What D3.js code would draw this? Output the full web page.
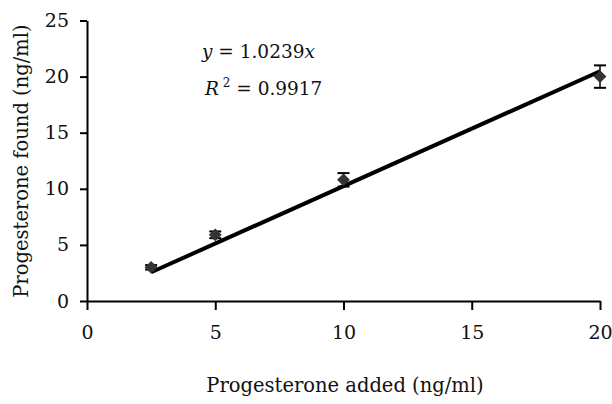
<!DOCTYPE html>
<html>
<head>
<meta charset="utf-8">
<script src="https://cdn.jsdelivr.net/npm/d3@7"></script>
<style>
  body { margin: 0; background: #fff; }
  text { font-family: "DejaVu Serif", serif; fill: #111; }
</style>
</head>
<body>
<div id="chart"></div>
<script>
// data
var added = [2.5, 5, 10, 20];
var found = [3.0, 5.9, 10.8, 20.0];
var errs = [0.2, 0.3, 0.6, 1.0];
var slope = 1.0239;
var xTicks = [0, 5, 10, 15, 20];
var yTicks = [0, 5, 10, 15, 20, 25];

var W = 612, H = 404;
var fnt = "DejaVu Serif";
var svg = d3.select("#chart").append("svg")
    .attr("width", W)
    .attr("height", H);

var x = d3.scaleLinear().domain([0, 20]).range([87, 600]);
var y = d3.scaleLinear().domain([0, 25]).range([301, 20.5]);

// axes
var xAxis = svg.append("g")
    .attr("transform", "translate(0," + y(0) + ")")
    .call(d3.axisBottom(x).tickValues(xTicks).tickSize(9).tickSizeOuter(0).tickPadding(16));
var yAxis = svg.append("g")
    .attr("transform", "translate(" + x(0) + ",0)")
    .call(d3.axisLeft(y).tickValues(yTicks).tickSize(7).tickSizeOuter(0).tickPadding(11));

[xAxis, yAxis].forEach(function(g) {
    g.select(".domain").attr("stroke", "#000").attr("stroke-width", 2);
    g.selectAll(".tick line").attr("stroke", "#000").attr("stroke-width", 2);
    g.selectAll(".tick text")
        .attr("font-family", fnt)
        .attr("font-size", 19)
        .attr("fill", "#111");
});

// trend line
var line = d3.line()
    .x(function(d) { return x(d); })
    .y(function(d) { return y(d * slope); });
svg.append("path")
    .datum([added[0], added[added.length - 1]])
    .attr("d", line)
    .attr("stroke", "#000")
    .attr("stroke-width", 4)
    .attr("fill", "none");

// error bars
var bars = svg.selectAll(".err")
    .data(added)
    .enter()
    .append("g")
    .attr("class", "err");
bars.append("line")
    .attr("x1", function(d) { return x(d); })
    .attr("x2", function(d) { return x(d); })
    .attr("y1", function(d, i) { return y(found[i] - errs[i]); })
    .attr("y2", function(d, i) { return y(found[i] + errs[i]); })
    .attr("stroke", "#000").attr("stroke-width", 1.5);
[-1, 1].forEach(function(s) {
    bars.append("line")
        .attr("x1", function(d) { return x(d) - 6; })
        .attr("x2", function(d) { return x(d) + 6; })
        .attr("y1", function(d, i) { return y(found[i] + s * errs[i]); })
        .attr("y2", function(d, i) { return y(found[i] + s * errs[i]); })
        .attr("stroke", "#000").attr("stroke-width", 2);
});

// diamond markers
svg.selectAll(".pt")
    .data(added)
    .enter()
    .append("path")
    .attr("class", "pt")
    .attr("d", d3.symbol().type(d3.symbolDiamond2).size(105))
    .attr("transform", function(d, i) { return "translate(" + x(d) + "," + y(found[i]) + ")"; })
    .attr("fill", "#333");

// equation
var eq = svg.append("text").attr("x", 202).attr("y", 58).attr("font-size", 18.5);
eq.append("tspan").attr("font-style", "italic").text("y");
eq.append("tspan").text(" = 1.0239");
eq.append("tspan").attr("font-style", "italic").text("x");

var r2 = svg.append("text").attr("x", 205).attr("y", 95).attr("font-size", 18.5);
r2.append("tspan").attr("font-style", "italic").text("R");
r2.append("tspan").attr("font-size", 12).attr("dy", -8).text(" 2");
r2.append("tspan").attr("dy", 8).text(" = 0.9917");

// axis titles
svg.append("text")
    .attr("x", 345)
    .attr("y", 392)
    .attr("text-anchor", "middle")
    .attr("font-size", 19.5)
    .text("Progesterone added (ng/ml)");

svg.append("text")
    .attr("transform", "translate(28,161) rotate(-90)")
    .attr("text-anchor", "middle")
    .attr("font-size", 19.5)
    .text("Progesterone found (ng/ml)");
</script>
</body>
</html>
